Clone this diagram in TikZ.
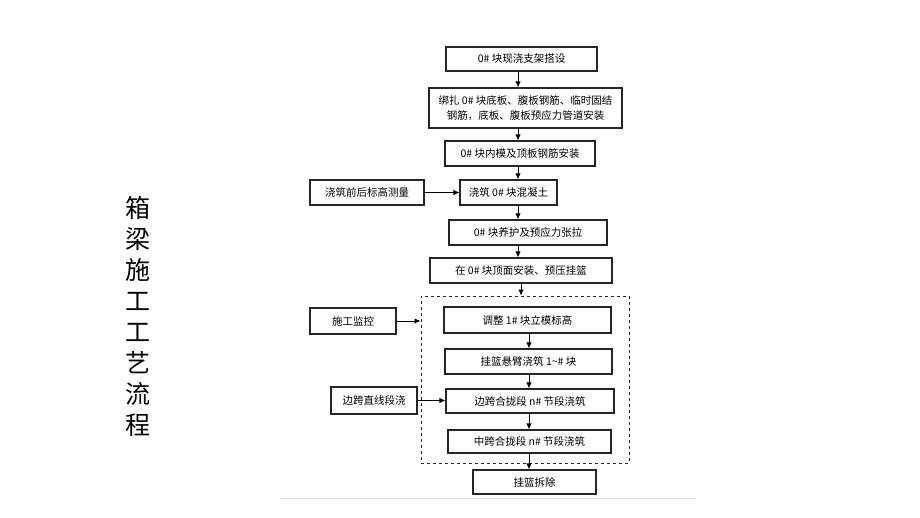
\documentclass[tikz,border=0pt]{standalone}
\usepackage{fontspec}
\usepackage{xcolor}
\newfontfamily\cjk{Noto Sans CJK SC}
\usetikzlibrary{arrows.meta,positioning}

\begin{document}
\begin{tikzpicture}[x=1pt, y=-1pt,
    every node/.style={font=\cjk\fontsize{10.5}{15}\selectfont},
    stepbox/.style={draw=black!85, line width=1.2pt, inner sep=0pt, align=center},
    loopbox/.style={draw=black!85, line width=.9pt, dashed, inner sep=0pt},
    arr/.style={-{Latex[length=6pt,width=5.5pt]}, line width=.9pt}]
\useasboundingbox (0,0) rectangle (920,517);

        %title
        \node[font=\cjk\fontsize{25}{30.9}\selectfont, align=center] (title) at (137.5,316.5)
            {箱\\梁\\施\\工\\工\\艺\\流\\程};

        %columns for the arrows
        \coordinate (spine) at (518,0);
        \coordinate (spineb) at (529,0);

        % 0# block
        \node[stepbox, minimum width=151, minimum height=24] (s1) at (521.5,59) {0\# 块现浇支架搭设};
        \node[stepbox, minimum width=193, minimum height=40] (s2) at (525.5,108)
            {绑扎 0\# 块底板、腹板钢筋、临时固结\\钢筋，底板、腹板预应力管道安装};
        \node[stepbox, minimum width=150, minimum height=25] (s3) at (520,153.5) {0\# 块内模及顶板钢筋安装};
        \node[stepbox, minimum width=97, minimum height=25] (s4) at (508.5,192.5) {浇筑 0\# 块混凝土};
        \node[stepbox, minimum width=114, minimum height=25] (m1) at (367,192.5) {浇筑前后标高测量};
        \node[stepbox, minimum width=158, minimum height=25] (s5) at (528,232.5) {0\# 块养护及预应力张拉};
        \node[stepbox, minimum width=182, minimum height=25] (s6) at (521,270.5) {在 0\# 块顶面安装、预压挂篮};

        % cantilever casting
        \node[loopbox, minimum width=208, minimum height=167] (loop) at (525,379.5) {};
        \node[stepbox, minimum width=167, minimum height=26] (s7) at (527.5,320) {调整 1\# 块立模标高};
        \node[stepbox, minimum width=86, minimum height=26] (m2) at (353,321) {施工监控};
        \node[stepbox, minimum width=167, minimum height=25] (s8) at (528.5,361.5) {挂篮悬臂浇筑 1\textasciitilde\# 块};
        \node[stepbox, minimum width=168, minimum height=24] (s9) at (530,401) {边跨合拢段 n\# 节段浇筑};
        \node[stepbox, minimum width=86, minimum height=27] (m3) at (374,400.5) {边跨直线段浇};
        \node[stepbox, minimum width=163, minimum height=23] (s10) at (529.5,441.5) {中跨合拢段 n\# 节段浇筑};

        % removal
        \node[stepbox, minimum width=123, minimum height=24] (s11) at (534.5,482) {挂篮拆除};

        %relations
        \draw[arr] (s1.south -| spine) -- (s2.north -| spine);
        \draw[arr] (s2.south -| spine) -- (s3.north -| spine);
        \draw[arr] (s3.south -| spine) -- (s4.north -| spine);
        \draw[arr] (s4.south -| spine) -- (s5.north -| spine);
        \draw[arr] (s5.south -| spine) -- (s6.north -| spine);
        \draw[arr] (s6.south) -- (s6.south |- loop.north);
        \draw[arr] (s7.south -| spineb) -- (s8.north -| spineb);
        \draw[arr] (s8.south -| spineb) -- (s9.north -| spineb);
        \draw[arr] (s9.south -| spineb) -- (s10.north -| spineb);
        \draw[arr] (s10.south -| spineb) -- (s11.north -| spineb);
        \draw[arr] (m1.east) -- (s4.west);
        \draw[arr] (m2.east) -- (m2.east -| loop.west);
        \draw[arr] (m3.east) -- (m3.east -| s9.west);

        %footer rule
        \draw[black!12, line width=.8pt] (280,498) -- (695,498);
\end{tikzpicture}
\end{document}
